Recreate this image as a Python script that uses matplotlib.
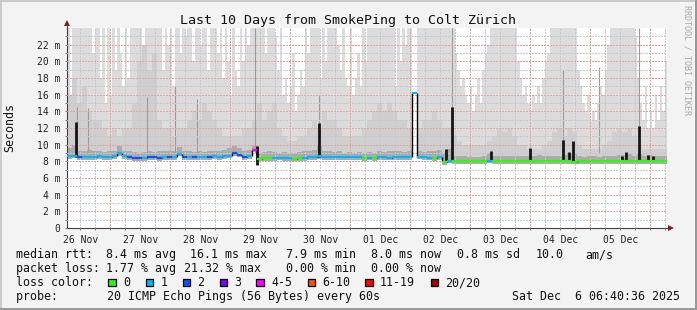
import numpy as np
import pandas as pd
import matplotlib
matplotlib.use("Agg")
import matplotlib.pyplot as plt
import matplotlib.dates as mdates
from matplotlib.ticker import FuncFormatter, FixedLocator, NullFormatter
from matplotlib.patches import Rectangle, Polygon

plt.rcParams["font.family"] = "DejaVu Sans Mono"

# time frame: 10 days ending at the graph time
t_start = pd.Timestamp("2025-11-26 06:40:36")
t_end = pd.Timestamp("2025-12-06 06:40:36")
edges_1h = pd.date_range(t_start, t_end, freq="1h")
edges_2h = pd.date_range(t_start, t_end, freq="2h")
nan = np.nan

# upper end of the smoke (ms), one value per hour
smoke_max = [
    24, 16, 24, 24, 24, 24, 24, 24, 24, 24, 21, 24, 24, 18, 24, 15, 24, 16, 24, 19, 24, 21, 17, 24,
    18, 24, 24, 24, 24, 24, 20, 24, 24, 24, 24, 24, 24, 24, 19, 24, 22, 24, 17, 24, 24, 21, 24, 23,
    24, 24, 20, 24, 24, 22, 24, 24, 19, 24, 24, 24, 21, 24, 18, 24, 20, 16, 24, 19, 17, 24, 20, 24,
    22, 24, 24, 24, 24, 24, 24, 21, 24, 24, 24, 23, 19, 24, 16, 18, 15, 17, 21, 14, 16, 19, 17, 24,
    21, 24, 24, 24, 24, 18, 24, 20, 24, 24, 24, 24, 22, 19, 24, 18, 17, 24, 16, 18, 21, 17, 24, 20,
    24, 24, 24, 24, 24, 24, 24, 24, 24, 24, 24, 17, 24, 20, 24, 22, 24, 24, nan, nan, 24, 24, 24, 24,
    24, 24, 24, 24, 24, 24, 24, 24, 24, 24, 24, 21, 19, 17, 18, 16, 15, 17, 14, 16, 18, 15, 19, 21,
    22, 24, 24, 24, 24, 24, 24, 24, 24, 24, 24, 24, 20, 18, 16, 17, 15, 14, 16, 15, 17, 15, 18, 20,
    21, 24, 24, 24, 24, 24, 24, 24, 24, 24, 24, 24, 19, 17, 15, 14, 16, 13, 14, 13, 15, 17, 16, 19,
    22, 24, 24, 24, 24, 24, 24, 24, 24, 24, 24, 23, 18, 15, 13, 17, 12, 14, 12, 16, 13, 17, 14, 20,
]
# denser part of the smoke, one value per 2h
smoke_mid = [
    16, 18, 15, 17, 14, 13, 13, 12, 11, 12, 11, 12,
    12, 15, 20, 22, 19, 21, 13, 12, 12, 11, 12, 12,
    13, 14, 13, 15, 14, 13, 12, 11, 11, 11, 11, 12,
    12, 13, 15, 13, 14, 15, 12, 11, 10.5, 10.5, 11, 11,
    12, 13, 12, 14, 13, 13, 12, 11, 11, 11, 11, 12,
    13, 14, 15, 14, 15, 14, 13, 13, 12, nan, 12, 13,
    13, 14, 13, 12, 12, 11, 10.5, 10, 10, 10, 10, 10,
    10.5, 11, 12, 11.5, 12, 11, 10, 10, 9.5, 9.5, 9.5, 10,
    10.5, 11.5, 12, 11, 12, 11.5, 10, 9.5, 9.5, 9.5, 9.5, 10,
    10.5, 11.5, 12, 11.5, 12, 11, 10, 9.5, 9.5, 9.5, 9.5, 9.5,
]
# darkest smoke just above the median, one value per 2h
smoke_low = [
    9.6, 10.0, 9.3, 9.2, 9.4, 9.2, 9.3, 9.1, 9.2, 9.3, 9.8, 9.3,
    9.2, 9.1, 9.0, 9.1, 9.2, 9.1, 9.2, 9.3, 9.2, 9.3, 9.7, 9.2,
    9.2, 9.1, 9.2, 9.1, 9.3, 9.2, 9.3, 9.4, 9.6, 9.8, 9.6, 9.3,
    9.4, 10.0, 9.0, 9.1, 9.2, 9.1, 9.0, 9.1, 9.0, 9.0, 9.1, 9.2,
    9.3, 9.4, 9.8, 9.3, 9.2, 9.1, 9.2, 9.0, 9.1, 9.0, 9.1, 9.0,
    9.1, 9.0, 9.2, 9.1, 9.2, 9.3, 9.2, 9.1, 9.2, nan, 9.2, 9.1,
    9.2, 9.3, 9.4, 9.0, 9.5, 8.7, 8.6, 8.6, 8.5, 8.5, 8.5, 8.6,
    9.0, 8.7, 8.6, 8.7, 8.6, 8.7, 8.6, 8.6, 8.7, 8.6, 8.8, 8.6,
    8.6, 8.7, 8.6, 8.8, 9.0, 8.9, 8.6, 8.5, 8.6, 8.6, 8.5, 8.6,
    8.6, 8.7, 8.8, 8.8, 8.9, 8.7, 8.9, 8.6, 8.8, 8.7, 8.6, 8.6,
]
# median rtt (ms), one value per 2h
median = [
    8.6, 8.7, 8.5, 8.5, 8.5, 8.5, 8.6, 8.5, 8.5, 8.6, 9.0, 8.6,
    8.5, 8.4, 8.4, 8.4, 8.5, 8.5, 8.4, 8.5, 8.5, 8.5, 8.9, 8.5,
    8.5, 8.5, 8.5, 8.5, 8.5, 8.6, 8.5, 8.6, 8.7, 9.0, 8.8, 8.5,
    8.6, 9.4, 8.3, 8.35, 8.4, 8.4, 8.45, 8.4, 8.4, 8.3, 8.35, 8.4,
    8.5, 8.5, 8.6, 8.5, 8.5, 8.5, 8.5, 8.5, 8.5, 8.5, 8.5, 8.4,
    8.45, 8.4, 8.5, 8.5, 8.45, 8.5, 8.5, 8.5, 8.5, 16.2, 8.55, 8.5,
    8.45, 8.4, 8.5, 7.9, 8.1, 8.0, 8.0, 8.0, 8.0, 8.0, 8.0, 8.0,
    8.05, 8.0, 8.0, 8.0, 8.0, 8.0, 8.0, 8.0, 8.0, 8.0, 8.0, 8.0,
    8.0, 8.0, 8.0, 8.0, 8.0, 7.95, 8.0, 8.0, 8.0, 8.0, 8.0, 8.0,
    8.0, 8.0, 8.0, 8.0, 8.0, 8.0, 8.0, 8.0, 8.0, 8.0, 8.0, 8.0,
]
# index into loss_labels / loss_colors, one value per 2h
loss_class = [
    1, 1, 2, 1, 1, 1, 1, 1, 1, 1, 1, 1,
    2, 2, 2, 1, 2, 2, 2, 1, 2, 1, 1, 2,
    1, 2, 1, 1, 2, 1, 1, 1, 1, 2, 2, 2,
    1, 4, 0, 0, 0, 1, 1, 1, 1, 0, 0, 1,
    1, 1, 1, 1, 1, 1, 1, 1, 1, 1, 1, 0,
    1, 0, 1, 1, 1, 1, 1, 1, 1, 1, 1, 1,
    1, 0, 1, 0, 1, 0, 0, 0, 0, 0, 0, 0,
    1, 0, 0, 0, 0, 0, 0, 0, 0, 0, 0, 0,
    0, 0, 0, 0, 0, 0, 0, 0, 0, 0, 0, 0,
    0, 0, 0, 0, 0, 0, 0, 0, 0, 0, 0, 0,
]
loss_labels = ["0", "1", "2", "3", "4-5", "6-10", "11-19", "20/20"]
loss_colors = ["#26ff00", "#00b8ff", "#0059ff", "#7e00ff",
               "#ff00ff", "#ff5500", "#ff0000", "#a10000"]

# short dark bursts in the smoke
spike_times = ["2025-11-26 10:16", "2025-11-29 10:40", "2025-11-30 11:28",
               "2025-12-02 14:16", "2025-12-02 16:40", "2025-12-03 08:16",
               "2025-12-03 23:52", "2025-12-04 13:04", "2025-12-04 15:28",
               "2025-12-04 17:04", "2025-12-05 12:40", "2025-12-05 14:16",
               "2025-12-05 19:28", "2025-12-05 23:04", "2025-12-06 01:04"]
spike_lows = [8.5, 7.6, 8.5, 8.0, 8.0, 8.0, 8.0, 8.0, 8.0, 8.0, 8.0, 8.0, 8.0, 8.0, 8.0]
spike_tops = [12.7, 9.8, 12.6, 9.5, 14.5, 9.3, 9.6, 10.6, 9.1, 10.5, 8.7, 9.1, 12.2, 8.8, 8.7]
# single high pings
streak_times = ["2025-11-26 10:40", "2025-11-26 15:04", "2025-11-27 14:40",
                "2025-11-28 01:52", "2025-11-28 10:40", "2025-11-29 09:52",
                "2025-11-30 11:28", "2025-12-02 16:40", "2025-12-04 13:04",
                "2025-12-05 03:28", "2025-12-05 19:28"]
streak_tops = [14.5, 14.4, 15.7, 17.0, 15.5, 24, 16.0, 24, 19.0, 19.3, 24]

fig = plt.figure(figsize=(6.97, 3.10), dpi=100)
fig.patch.set_facecolor("#f3f3f3")
ax = fig.add_axes([67 / 697, 82 / 310, 600 / 697, 200 / 310])
ax.set_facecolor("white")


def steps(vals, edges):
    xs = np.repeat(edges.values, 2)[1:-1]
    ys = np.repeat(np.asarray(vals, dtype=float), 2)
    return xs, ys


# everything on the hourly grid (2h series are held for both hours)
xs, top = steps(smoke_max, edges_1h)
_, mid = steps(np.repeat(smoke_mid, 2), edges_1h)
_, low = steps(np.repeat(smoke_low, 2), edges_1h)
_, med = steps(np.repeat(median, 2), edges_1h)
floor = med - 0.3
ax.fill_between(xs, floor, top, color="#dcdcdc", lw=0, zorder=1)
ax.fill_between(xs, floor, mid, color="#cfcfcf", lw=0, zorder=1.1)
ax.fill_between(xs, floor, low, color="#ababab", lw=0, zorder=1.2)

ax.vlines(pd.to_datetime(streak_times), 9.0, streak_tops, color="#9c9c9c", lw=0.8, zorder=1.3)
ax.vlines(pd.to_datetime(spike_times), spike_lows, spike_tops, color="#151515", lw=2.0, zorder=2.6)

# median line coloured by loss
med_arr = np.asarray(median, dtype=float)
ax.vlines(edges_2h[1:-1], np.minimum(med_arr[:-1], med_arr[1:]),
          np.maximum(med_arr[:-1], med_arr[1:]), color="black", lw=1.0, zorder=2.8)
ax.hlines(med_arr, edges_2h[:-1], edges_2h[1:],
          colors=[loss_colors[c] for c in loss_class], lw=1.6, zorder=3)

ax.set_xlim(t_start, t_end)
ax.set_ylim(0, 24)

ax.xaxis.set_major_locator(mdates.DayLocator())
ax.xaxis.set_major_formatter(NullFormatter())
ax.xaxis.set_minor_locator(mdates.HourLocator(byhour=[0, 6, 12, 18]))


def day_label(v, pos):
    d = mdates.num2date(v)
    return d.strftime("%d %b") if d.hour == 12 else ""


ax.xaxis.set_minor_formatter(FuncFormatter(day_label))
ax.yaxis.set_major_locator(FixedLocator(np.arange(0, 23, 2)))
ax.yaxis.set_minor_locator(FixedLocator(np.arange(1, 24, 2)))
ax.yaxis.set_major_formatter(FuncFormatter(lambda v, p: "0" if v == 0 else f"{v:.0f} m"))

ax.set_axisbelow(False)
ax.grid(True, which="major", color="#e6a3a3", linestyle=(0, (1, 1)), linewidth=1.0,
        antialiased=False)
ax.grid(True, which="minor", color="#c8c8c8", linestyle=(0, (1, 1)), linewidth=1.0,
        antialiased=False)
ax.tick_params(which="both", direction="out", length=1.5, width=0.7, color="#808080",
               labelsize=7, pad=3.4, labelcolor="#222222")
ax.tick_params(axis="x", which="minor", pad=3.2)

for s in ["top", "right"]:
    ax.spines[s].set_visible(False)
for s in ["left", "bottom"]:
    ax.spines[s].set_color("#404040")
    ax.spines[s].set_linewidth(0.8)

# overlay in pixel coordinates for the rrdtool furniture
ov = fig.add_axes([0, 0, 1, 1])
ov.set_xlim(0, 697)
ov.set_ylim(310, 0)
ov.axis("off")
ov.patch.set_visible(False)

ov.plot([67, 67], [28, 24], color="#404040", lw=0.8)
ov.plot([667, 670], [228, 228], color="#404040", lw=0.8)
ov.add_patch(Polygon([[64, 26], [70, 26], [67, 20]], closed=True, color="#8b1a1a", lw=0))
ov.add_patch(Polygon([[668, 225], [668, 231], [674, 228]], closed=True, color="#8b1a1a", lw=0))

ov.add_patch(Rectangle((0, 0), 697, 2, color="#cbcbcb", lw=0))
ov.add_patch(Rectangle((0, 0), 2, 310, color="#cbcbcb", lw=0))
ov.add_patch(Rectangle((0, 307.5), 697, 2.5, color="#999999", lw=0))
ov.add_patch(Rectangle((694.5, 0), 2.5, 310, color="#999999", lw=0))

ov.text(348.5, 24, "Last 10 Days from SmokePing to Colt Zürich",
        ha="center", va="baseline", fontsize=9.6, color="#111111")
ov.text(10, 128, "Seconds", rotation=90, ha="center", va="center", fontsize=8.4, color="#111111")
ov.text(686.5, 5, "RRDTOOL / TOBI OETIKER", rotation=270, ha="center", va="top",
        fontsize=6.0, color="#a8a8a8")

# legend rows: (left x in pixels, text)
legend_rows = [
    [(15.5, "median rtt:"), (106.3, "8.4 ms avg"), (189.7, "16.1 ms max"),
     (285.7, "7.9 ms min"), (371.3, "8.0 ms now"), (457.3, "0.8 ms sd"),
     (535.8, "10.0"), (585.0, "am/s")],
    [(15.5, "packet loss:"), (106.3, "1.77 % avg"), (184.0, "21.32 % max"),
     (285.7, "0.00 % min"), (371.3, "0.00 % now")],
    [(15.5, "loss color:")],
    [(15.5, "probe:       20 ICMP Echo Pings (56 Bytes) every 60s"),
     (512.5, "Sat Dec  6 06:40:36 2025")],
]
for i, row in enumerate(legend_rows):
    for x, txt in row:
        ov.text(x, 258.3 + 14 * i, txt, ha="left", va="baseline", fontsize=8.37, color="#111111")

box_x = [108, 145.5, 182.5, 219.5, 256, 307.5, 365, 430.5]
for bx, col, lab in zip(box_x, loss_colors, loss_labels):
    ov.add_patch(Rectangle((bx, 278.5), 7.5, 7.5, facecolor=col, edgecolor="black", lw=0.9))
    ov.text(bx + 15, 286.3, lab, ha="left", va="baseline", fontsize=8.37, color="#111111")

fig.savefig("out.png", dpi=100, facecolor=fig.get_facecolor())
